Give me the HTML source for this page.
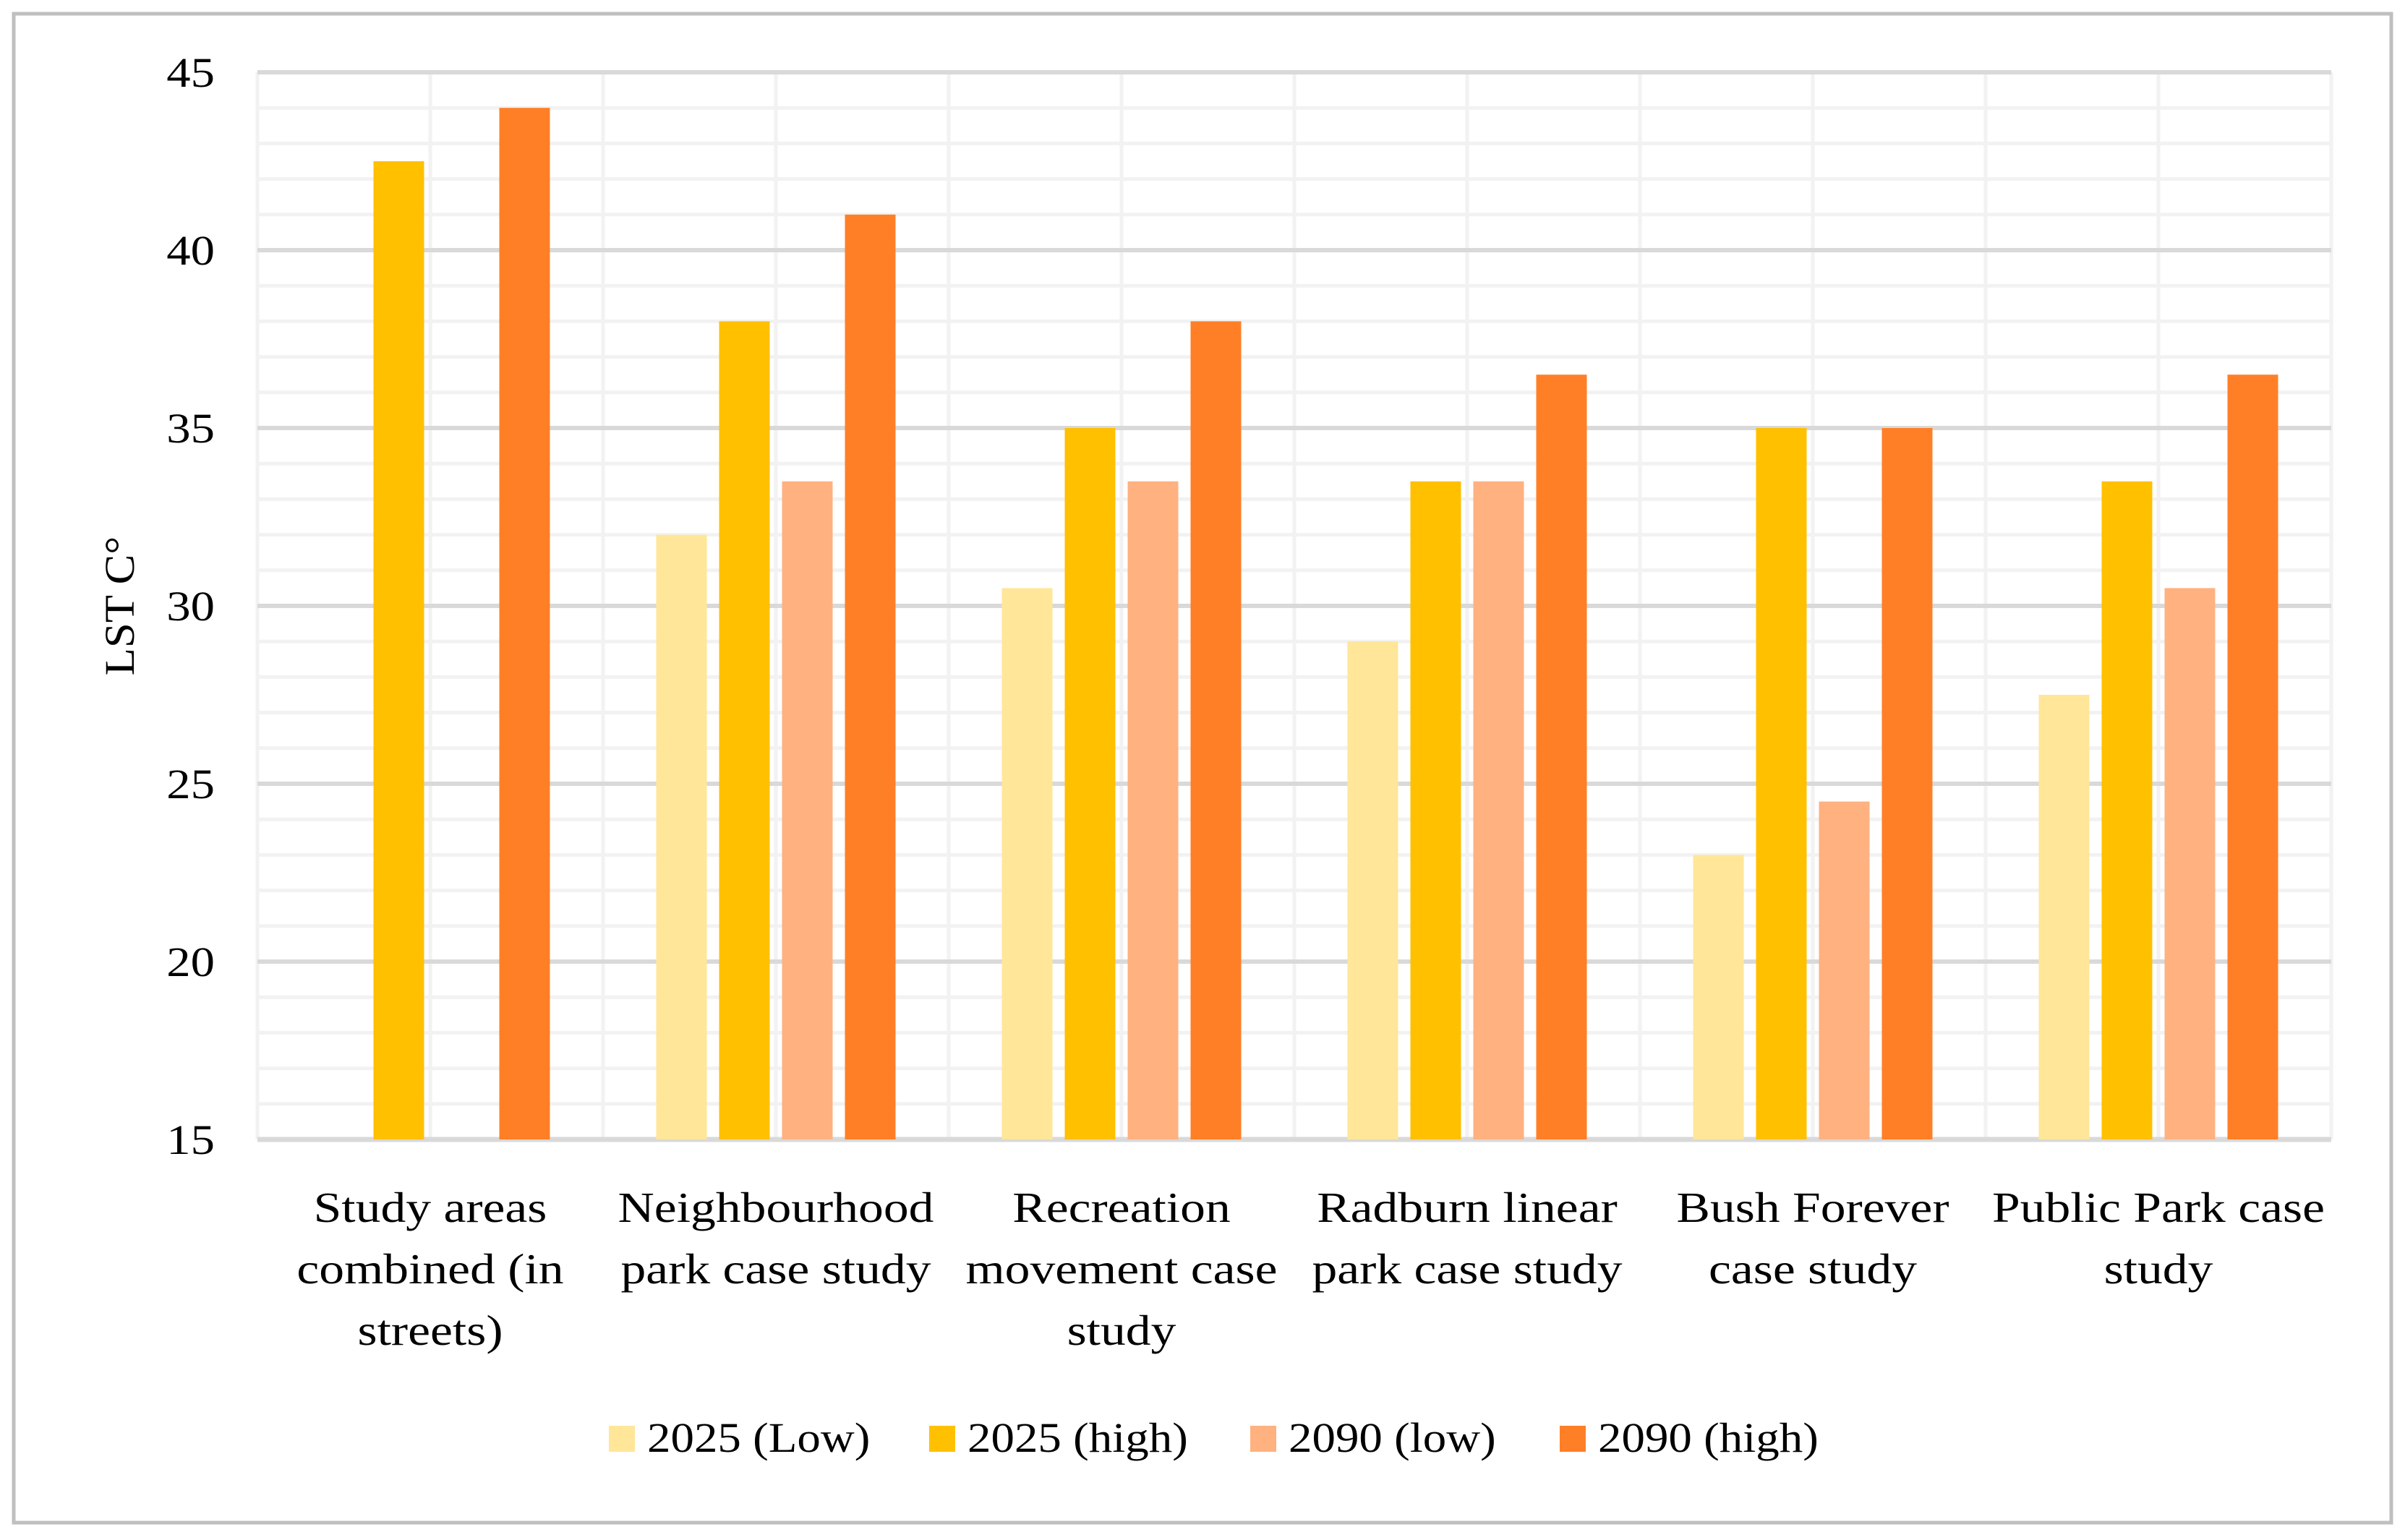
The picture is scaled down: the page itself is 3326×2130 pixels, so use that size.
<!DOCTYPE html>
<html><head><meta charset="utf-8"><style>
html,body{margin:0;padding:0;background:#fff}
svg{display:block}
text{font-family:"Liberation Serif",serif;fill:#000}
</style></head><body>
<svg id="chart" width="3326" height="2130" viewBox="0 0 3326 2130" xmlns="http://www.w3.org/2000/svg">
<rect x="19" y="19" width="3288" height="2087" fill="#fff" stroke="#bfbfbf" stroke-width="5"/>
<g id="grid"></g>
<g id="bars"></g>
<g id="ylabels"></g>
<g id="xlabels"></g>
<text transform="translate(185,838) rotate(-90) scale(1.08,1)" text-anchor="middle" font-size="58">LST C°</text>
<g id="legend"></g>
</svg>
<script>
const categories = [["Study areas","combined (in","streets)"],["Neighbourhood","park case study"],["Recreation","movement case","study"],["Radburn linear","park case study"],["Bush Forever","case study"],["Public Park case","study"]];
const seriesNames = ["2025 (Low)","2025 (high)","2090 (low)","2090 (high)"];
const s2025Low = [null,32,30.5,29,23,27.5];
const s2025High = [42.5,38,35,33.5,35,33.5];
const s2090Low = [null,33.5,33.5,33.5,24.5,30.5];
const s2090High = [44,41,38,36.5,35,36.5];
const yTicks = [15,20,25,30,35,40,45];
const colors = ["#ffe699","#ffc000","#ffb180","#ff7f27"];
const series = [s2025Low,s2025High,s2090Low,s2090High];

const NS="http://www.w3.org/2000/svg";
const L=356,R=3224,T=100,B=1576,yMin=15,yMax=45;
const cw=(R-L)/categories.length;
const y=v=>B-(v-yMin)/(yMax-yMin)*(B-T);
const xCat=i=>L+cw*i;
function mk(tag,attrs,parent){const e=document.createElementNS(NS,tag);for(const k in attrs)e.setAttribute(k,attrs[k]);parent.appendChild(e);return e;}
const grid=document.getElementById('grid');
for(let v=yMin+1;v<yMax;v++){ if(v%5===0)continue;
  const l=mk('line',{x1:L,x2:R,y1:y(v),y2:y(v),stroke:'#f2f2f2','stroke-width':5},grid);
  
  
}
for(let i=0;i<=categories.length*2;i++){
  const xx=L+cw*i/2;
  const l=mk('line',{x1:xx,x2:xx,y1:T,y2:B,stroke:'#f2f2f2','stroke-width':5},grid);
  
  
}
yTicks.forEach(v=>{
  const l=mk('line',{x1:L,x2:R,y1:y(v),y2:y(v),stroke:'#d9d9d9','stroke-width':v===yMin?7:6},grid);
  
  
  const t=mk('text',{'text-anchor':'end','font-size':58,transform:`translate(297,${y(v)+20}) scale(1.15,1)`},document.getElementById('ylabels'));
  t.textContent=v;
  
  
});
const bw=70,pitch=87,gw=pitch*3+bw;
const bars=document.getElementById('bars');
categories.forEach((c,i)=>{
  const start=xCat(i)+(cw-gw)/2;
  series.forEach((s,j)=>{
    const v=s[i]; if(v==null)return;
    const r=mk('rect',{x:start+j*pitch,y:y(v),width:bw,height:B-y(v),fill:colors[j]},bars);
    
    
  });
  const g=mk('g',{},document.getElementById('xlabels'));
  
  
  c.forEach((line,k)=>{
    const t=mk('text',{'text-anchor':'middle','font-size':59,transform:`translate(${xCat(i)+cw/2},${1690+k*85}) scale(1.18,1)`},g);
    t.textContent=line;
  });
});
const leg=document.getElementById('legend');
const lx=[842,1285,1729,2157];
seriesNames.forEach((n,j)=>{
  const g=mk('g',{},leg);
  
  
  mk('rect',{x:lx[j],y:1972,width:36,height:36,fill:colors[j]},g);
  const t=mk('text',{'font-size':58,transform:`translate(${lx[j]+53},2008) scale(1.12,1)`},g);
  t.textContent=n;
});
</script>
</body></html>
